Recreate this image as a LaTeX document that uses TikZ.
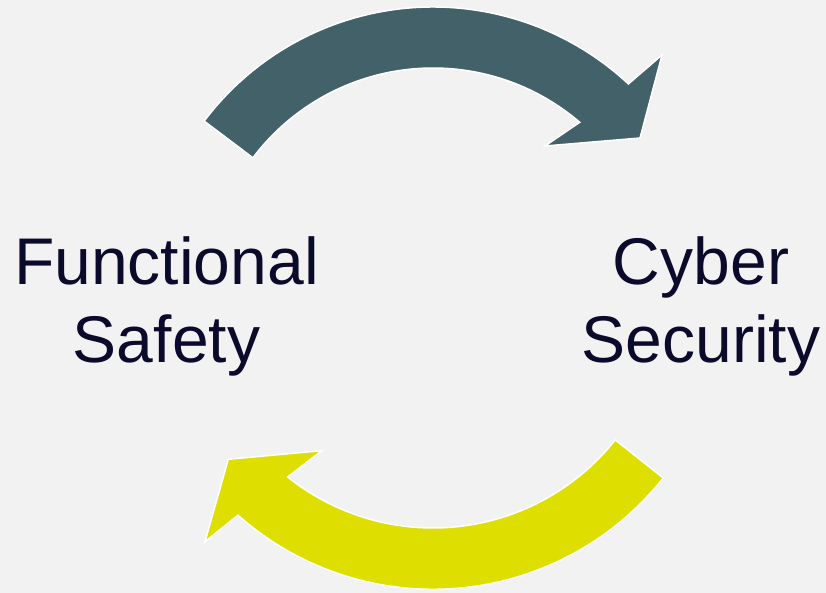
\documentclass[tikz,border=0pt]{standalone}
\usepackage{fontspec}
\setmainfont{Liberation Sans}
\usepackage{tikz}
\definecolor{slate}{HTML}{436169}
\definecolor{lime}{HTML}{DEDF00}
\definecolor{ink}{HTML}{0C0A2B}
\definecolor{paper}{HTML}{F2F2F2}
\tikzset{bendarrow/.style={draw=white,line width=1.5pt,line join=miter}}

\begin{document}
\begin{tikzpicture}[x=1pt,y=1pt]
	\fill[paper] (0,0) rectangle (826,593);
	\useasboundingbox (0,0) rectangle (826,593);
	\begin{scope}[every node/.style={text=ink,align=center,font=\fontsize{66}{78}\selectfont}]
		\node (safety) at (166.5,287) {Functional\\Safety};
		\node (security) at (701,287) {Cyber\\Security};
	\end{scope}
	% top arrow, safety -> security
	\begin{scope}[shift={(433,299.5)}]
		\filldraw[bendarrow,fill=slate] (143:286.5) arc[start angle=143,end angle=47,radius=286.5]
			-- (229,238.5) -- (207,155.5) -- (112,147.5) -- (49.4:225.5)
			arc[start angle=49.4,end angle=143,radius=225.5] -- cycle;
	\end{scope}
	% bottom arrow, security -> safety
	\begin{scope}[shift={(433,297.5)}]
		\filldraw[bendarrow,fill=lime] (-38.4:293.8) arc[start angle=-38.4,end angle=-131.6,radius=293.8]
			-- (-228,-246.2) -- (-204.7,-163.8) -- (-111.3,-155.2) -- (-128.7:232.5)
			arc[start angle=-128.7,end angle=-38.4,radius=232.5] -- cycle;
	\end{scope}
\end{tikzpicture}
\end{document}
